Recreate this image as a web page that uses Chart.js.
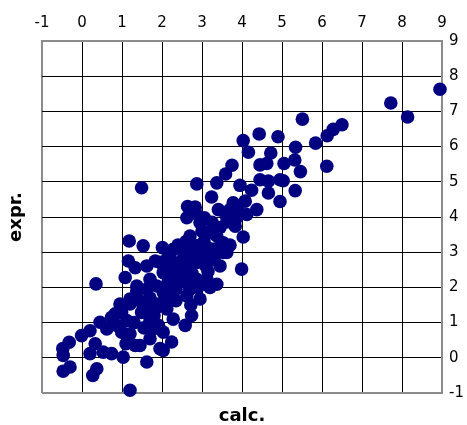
<!DOCTYPE html>
<html>
<head>
<meta charset="utf-8">
<script src="https://cdn.jsdelivr.net/npm/chart.js@4/dist/chart.umd.min.js"></script>
<style>
html, body { margin: 0; padding: 0; background: #fff; }
</style>
</head>
<body>
<canvas id="myChart" width="467" height="425"></canvas>
<script>
// Valores (calc. no eixo x, expr. no eixo y)
var calc = [
    8.95, 7.72, 8.14, 5.51, 6.50, 6.28, 6.13, 5.84, 4.43, 4.90,
    4.03, 4.16, 5.34, 4.72, 5.32, 5.46, 4.62, 4.45, 5.05, 3.75,
    3.59, 6.12, 4.45, 4.66, 4.95, 5.03, 3.95, 4.24, 5.33, 4.66,
    4.95, 1.49, 2.87, 3.37, 3.24, 3.78, 4.08, 4.37, 2.64, 2.83,
    3.06, 3.41, 3.70, 4.12, 2.62, 2.95, 3.62, 3.83, 4.03, 2.70,
    3.16, 3.37, 3.53, 3.70, 2.53, 2.87, 3.53, 3.99, 3.45, 3.62,
    1.18, 1.53, 2.01, 1.16, 1.33, 1.08, 1.62, 1.83, 0.35, 1.37,
    1.62, 2.12, 2.28, 2.20, 1.95, 2.45, 2.03, 1.70, 1.37, 2.70,
    2.87, 3.12, 2.87, 3.12, 3.37, 3.20, 2.28, 2.03, 1.87, 2.20,
    2.62, 2.95, 2.35, 2.72, 2.12, 1.70, 1.20, 1.53, 2.74, 2.58,
    2.28, 1.78, 2.40, 2.55, 2.60, 2.75, 2.95, 3.05, 3.20, 3.30,
    2.50, 2.65, 2.35, 2.75, 3.15, 2.90, 2.45, 2.30, 2.15, 2.60,
    2.75, 3.10, 2.20, 2.40, 3.35, 2.70, 2.10, 1.90, 3.45, 3.00,
    3.25, 2.85, 3.90, 3.60, 3.85, 0.95, 1.20, 0.83, 0.99, 1.62,
    1.91, 0.45, 0.62, 0.20, -0.01, -0.32, -0.48, -0.47, -0.30, -0.47,
    0.37, 0.27, 0.20, 0.33, 0.53, 0.74, 1.03, 0.99, 1.20, 1.33,
    1.62, 1.45, 1.70, 1.91, 2.03, 1.95, 1.20, 1.70, 1.49, 1.12,
    1.45, 1.70, 2.24, 2.03, 0.87, 1.30, 1.55, 1.80, 0.74, 1.10
];
var expr = [
    7.63, 7.24, 6.84, 6.78, 6.62, 6.49, 6.31, 6.10, 6.36, 6.28,
    6.17, 5.84, 5.98, 5.82, 5.62, 5.29, 5.52, 5.48, 5.52, 5.47,
    5.22, 5.44, 5.06, 5.02, 5.06, 5.03, 4.90, 4.76, 4.75, 4.68,
    4.44, 4.83, 4.94, 4.97, 4.57, 4.40, 4.45, 4.21, 4.30, 4.28,
    3.98, 4.21, 4.21, 4.07, 3.98, 3.84, 3.86, 3.74, 3.43, 3.46,
    3.55, 3.46, 3.27, 3.20, 3.18, 3.18, 2.99, 2.52, 2.61, 2.99,
    3.32, 3.18, 3.13, 2.75, 2.56, 2.28, 2.61, 2.75, 2.10, 1.90,
    1.95, 2.80, 3.08, 2.52, 2.71, 2.33, 2.42, 2.23, 2.04, 2.52,
    2.71, 2.89, 2.23, 2.23, 2.09, 2.00, 2.04, 1.86, 2.04, 1.76,
    1.76, 1.67, 1.62, 1.50, 1.39, 1.67, 1.67, 1.39, 1.20, 0.92,
    1.10, 0.82, 2.70, 2.90, 2.60, 2.85, 3.00, 3.30, 3.10, 2.80,
    2.20, 2.10, 1.95, 2.40, 2.45, 2.00, 2.50, 2.30, 2.15, 3.30,
    3.05, 2.60, 2.95, 3.20, 3.10, 1.95, 1.60, 1.45, 3.70, 3.60,
    3.85, 4.10, 4.20, 4.05, 3.95, 1.53, 1.53, 1.25, 1.29, 1.39,
    1.53, 1.01, 0.82, 0.77, 0.63, 0.44, 0.26, 0.07, -0.26, -0.38,
    -0.31, -0.50, 0.12, 0.40, 0.16, 0.12, 0.02, 0.73, 0.68, 0.35,
    -0.12, 0.35, 0.54, 0.92, 0.73, 0.26, -0.92, 1.06, 1.29, 1.06,
    1.62, 1.70, 0.45, 0.21, 0.92, 1.00, 0.85, 1.20, 1.15, 0.40
];
var axisMin = -1;
var axisMax = 9;

var pontos = calc.map(function (x, i) {
    return { x: x, y: expr[i] };
});

var tickFont = { family: 'DejaVu Sans', size: 15 };
var titleFont = { family: 'DejaVu Sans', size: 18, weight: 'bold', lineHeight: 1 };

function edgeColor(ctx) {
    var v = ctx.tick ? ctx.tick.value : null;
    return (v === axisMin || v === axisMax) ? '#8c8c8c' : '#000';
}
function edgeWidth(ctx) {
    var v = ctx.tick ? ctx.tick.value : null;
    return (v === axisMin || v === axisMax) ? 2 : 1;
}

var config = {
    type: 'scatter',
    data: {
        datasets: [{
            data: pontos,
            backgroundColor: '#000080',
            borderColor: '#000080',
            borderWidth: 0,
            pointRadius: 6.8,
            pointHoverRadius: 6.8,
            clip: false
        }]
    },
    options: {
        responsive: false,
        animation: false,
        events: [],
        layout: { padding: 0 },
        plugins: {
            legend: { display: false },
            tooltip: { enabled: false },
            title: {
                display: true,
                text: 'calc.',
                position: 'bottom',
                fullSize: false,
                color: '#000',
                font: titleFont,
                padding: { top: 14, bottom: 0 }
            },
            subtitle: {
                display: true,
                text: 'expr.',
                position: 'left',
                fullSize: false,
                color: '#000',
                font: titleFont,
                padding: { top: 7, bottom: 17 }
            }
        },
        scales: {
            x: {
                type: 'linear',
                position: 'top',
                min: axisMin,
                max: axisMax,
                afterFit: function (scale) { scale.height = 41; },
                ticks: { stepSize: 1, color: '#000', font: tickFont, padding: 9, maxRotation: 0 },
                grid: { color: edgeColor, lineWidth: edgeWidth, drawTicks: false },
                border: { display: true, color: '#8c8c8c', width: 2 }
            },
            y: {
                type: 'linear',
                position: 'right',
                min: axisMin,
                max: axisMax,
                afterFit: function (scale) { scale.width = 25; },
                ticks: { stepSize: 1, color: '#000', font: tickFont, padding: 7 },
                grid: { color: edgeColor, lineWidth: edgeWidth, drawTicks: false },
                border: { display: true, color: '#8c8c8c', width: 2 }
            }
        }
    }
};

var ctx = document.getElementById('myChart').getContext('2d');
new Chart(ctx, config);
</script>
</body>
</html>
